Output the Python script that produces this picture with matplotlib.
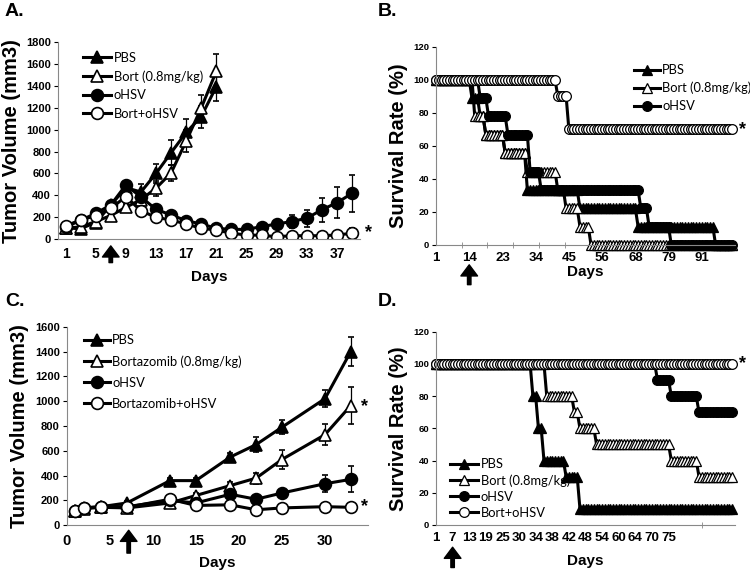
import numpy as np
import matplotlib.pyplot as plt

plt.rcParams['font.family'] = ['Liberation Sans', 'DejaVu Sans']

# ---------------- panel A: tumor volume (categorical days)
a_days = [1, 3, 5, 7, 9, 11, 13, 15, 17, 19, 21, 23, 25, 27, 29, 31, 33, 35, 37, 39]
a_pbs = [100, 95, 150, 310, 470, 430, 600, 790, 975, 1120, 1395]
a_pbs_err = [10, 10, 15, 25, 40, 70, 90, 115, 125, 100, 130]
a_bort = [100, 110, 160, 215, 290, 360, 465, 605, 895, 1200, 1535]
a_bort_err = [10, 10, 15, 20, 30, 50, 70, 70, 100, 120, 155]
a_ohsv = [110, 170, 235, 311, 494, 385, 271, 220, 168, 137, 98, 88, 88, 113, 137, 160, 190, 268, 332, 418]
a_ohsv_err = [10, 15, 20, 20, 30, 40, 30, 25, 20, 15, 15, 15, 15, 20, 30, 56, 76, 110, 142, 168]
a_combo = [120, 174, 213, 281, 387, 259, 198, 174, 137, 98, 82, 52, 37, 34, 21, 30, 30, 30, 37, 52]
a_combo_err = [10, 10, 15, 15, 20, 20, 15, 15, 15, 10, 10, 10, 10, 10, 10, 10, 10, 10, 15, 50]
a_names = ['PBS', 'Bort (0.8mg/kg)', 'oHSV', 'Bort+oHSV']

# ---------------- panel C: tumor volume (numeric days)
c_days = [1, 2, 4, 7, 12, 15, 19, 22, 25, 30, 33]
c_pbs = [115, 140, 150, 180, 360, 360, 550, 650, 790, 1020, 1400]
c_pbs_err = [10, 10, 10, 15, 25, 20, 35, 60, 58, 70, 118]
c_bort = [115, 135, 145, 140, 180, 240, 320, 380, 530, 730, 965]
c_bort_err = [10, 10, 10, 10, 15, 20, 30, 45, 76, 87, 152]
c_ohsv = [115, 140, 150, 150, 200, 180, 250, 210, 260, 335, 370]
c_ohsv_err = [10, 10, 10, 10, 15, 15, 30, 20, 30, 67, 105]
c_combo = [115, 140, 145, 145, 210, 160, 165, 125, 140, 150, 145]
c_combo_err = [10, 10, 10, 10, 10, 10, 10, 10, 10, 10, 10]
c_names = ['PBS', 'Bortazomib (0.8mg/kg)', 'oHSV', 'Bortazomib+oHSV']

# ---------------- panel B: survival, levels and number of category points at each level
b_cats = 108
b_labels = ['1', '14', '23', '34', '45', '56', '68', '79', '91']
b_pbs_lvl = [100, 88.9, 77.8, 66.7, 55.6, 33.3, 22.2, 11.1, 0]
b_pbs_n = [13, 3, 2, 7, 8, 19, 21, 28, 7]
b_bort_lvl = [100, 77.8, 66.7, 55.6, 44.4, 33.3, 22.2, 11.1, 0]
b_bort_n = [14, 4, 7, 8, 11, 3, 5, 4, 52]
b_ohsv_lvl = [100, 88.9, 77.8, 66.7, 44.4, 33.3, 22.2, 11.1, 0]
b_ohsv_n = [16, 3, 7, 8, 4, 36, 3, 8, 23]
b_combo_lvl = [100, 90, 70]
b_combo_n = [44, 4, 60]
b_names = ['PBS', 'Bort (0.8mg/kg)', 'oHSV', 'Bort+oHSV']

# ---------------- panel D: survival
d_cats = 108
d_labels = ['1', '7', '13', '19', '25', '30', '34', '38', '42', '48', '54', '60', '64', '70', '75']
d_pbs_lvl = [100, 80, 60, 40, 30, 10]
d_pbs_n = [35, 2, 2, 8, 5, 56]
d_bort_lvl = [100, 80, 70, 60, 50, 40, 30]
d_bort_n = [40, 10, 2, 6, 27, 10, 13]
d_ohsv_lvl = [100, 90, 80, 70]
d_ohsv_n = [80, 5, 10, 13]
d_combo_lvl = [100]
d_combo_n = [108]
d_names = ['PBS', 'Bort (0.8mg/kg)', 'oHSV', 'Bort+oHSV']

fig = plt.figure(figsize=(7.5, 5.73), dpi=100)
W, H = 750.0, 573.0


def axes_px(left, top, right, bottom):
    return fig.add_axes([left / W, 1 - bottom / H, (right - left) / W, (bottom - top) / H])


lab_font = dict(fontsize=14.5, fontweight='bold')
leg_prop = dict(family='Lato', size=9.3)

styles = [
    dict(marker='^', mfc='black', ms=9),
    dict(marker='^', mfc='white', ms=9),
    dict(marker='o', mfc='black', ms=8.5),
    dict(marker='o', mfc='white', ms=8.5),
]


def style_axes(ax):
    for s in ['top', 'right']:
        ax.spines[s].set_visible(False)
    for s in ['left', 'bottom']:
        ax.spines[s].set_color('#888888')
        ax.spines[s].set_linewidth(0.8)


def up_arrow(ax, x, y0, y1):
    ax.annotate('', xy=(x, y1), xytext=(x, y0), xycoords=('data', 'axes fraction'),
                textcoords=('data', 'axes fraction'), annotation_clip=False,
                arrowprops=dict(facecolor='black', edgecolor='black', width=2.5,
                                headwidth=12, headlength=8, shrink=0))


def star(ax, x, y):
    ax.text(x, y, '*', fontsize=13, fontweight='bold', ha='center', va='center', clip_on=False)


def volume(ax, x, series, names):
    handles = []
    for (vals, err), st, lab in zip(series, styles, names):
        n = len(vals)
        eb = ax.errorbar(x[:n], vals, yerr=err, color='black', lw=2.2, mec='black', mew=1.2,
                         capsize=2.5, elinewidth=0.9, capthick=0.9, **st)
        handles.append(eb.lines[0])
    ax.tick_params(axis='x', length=0, pad=6)
    ax.tick_params(axis='y', length=3, labelsize=8, pad=2)
    style_axes(ax)
    ax.set_ylabel('Tumor Volume (mm3)', labelpad=4, **lab_font)
    ax.set_xlabel('Days', fontsize=11, fontweight='bold', labelpad=6)
    return handles


# ================= A
axA = axes_px(58, 42.3, 359.6, 239)
xa = np.arange(len(a_days))
hA = volume(axA, xa, [(a_pbs, a_pbs_err), (a_bort, a_bort_err),
                      (a_ohsv, a_ohsv_err), (a_combo, a_combo_err)], a_names)
axA.set_xlim(-0.5, len(a_days) - 0.5)
axA.set_ylim(0, 1800)
axA.set_yticks(range(0, 1801, 200))
for t in axA.get_yticklabels():
    t.set_fontweight('bold')
axA.set_xticks(xa[::2])
axA.set_xticklabels([str(d) for d in a_days[::2]], fontsize=10, fontweight='bold')
axA.legend(hA, a_names, loc='upper left', bbox_to_anchor=(0.06, 0.985),
           frameon=False, prop=leg_prop, handlelength=2.2, handletextpad=0.2, labelspacing=0.5,
           borderpad=0)
up_arrow(axA, 3, -0.12, -0.035)
star(axA, 20.1, 60)

# ================= C
axC = axes_px(66.7, 326.7, 368, 525.3)
hC = volume(axC, np.array(c_days), [(c_pbs, c_pbs_err), (c_bort, c_bort_err),
                                    (c_ohsv, c_ohsv_err), (c_combo, c_combo_err)], c_names)
axC.set_xlim(0, 35)
axC.set_ylim(0, 1600)
axC.set_yticks(range(0, 1601, 200))
for t in axC.get_yticklabels():
    t.set_fontweight('bold')
axC.set_xticks(range(0, 31, 5))
axC.set_xticklabels([str(v) for v in range(0, 31, 5)], fontsize=10.5, fontweight='bold')
axC.legend(hC, c_names, loc='upper left', bbox_to_anchor=(0.035, 0.995),
           frameon=False, prop=leg_prop, handlelength=2.0, handletextpad=0.2, labelspacing=0.7,
           borderpad=0)
up_arrow(axC, 7.2, -0.14, -0.025)
star(axC, 34.6, 960)
star(axC, 34.6, 150)


# ================= survival panels
surv_styles = [
    dict(marker='^', mfc='black', ms=7.5),
    dict(marker='^', mfc='white', ms=7.5),
    dict(marker='o', mfc='black', ms=7),
    dict(marker='o', mfc='white', ms=7),
]


def survival(ax, ncat, series, names, labels, lab_step, tick_step):
    lines = []
    for (lvl, cnt), st, lab in zip(series, surv_styles, names):
        y = np.repeat(lvl, cnt)
        ln, = ax.plot(np.arange(ncat), y, color='black', lw=2.2, mec='black', mew=0.9,
                      clip_on=False, **st)
        lines.append(ln)
    ax.set_xlim(0, ncat)
    ax.set_ylim(0, 120)
    ax.set_yticks(range(0, 121, 20))
    ax.tick_params(axis='y', length=3, labelsize=6.8, pad=2)
    for t in ax.get_yticklabels():
        t.set_fontweight('bold')
    ax.set_xticks(np.arange(len(labels)) * lab_step)
    ax.set_xticklabels(labels, fontsize=9.5, fontweight='bold')
    ax.set_xticks(np.arange(0, ncat, tick_step), minor=True)
    ax.tick_params(axis='x', which='major', length=0, pad=5)
    ax.tick_params(axis='x', which='minor', length=4, direction='inout', color='#888888')
    style_axes(ax)
    ax.set_ylabel('Survival Rate (%)', labelpad=4, **lab_font)
    return lines


axB = axes_px(436, 46.7, 735, 245)
linesB = survival(axB, b_cats,
                  [(b_pbs_lvl, b_pbs_n), (b_bort_lvl, b_bort_n),
                   (b_ohsv_lvl, b_ohsv_n), (b_combo_lvl, b_combo_n)],
                  b_names, b_labels, 12, 9.3)
axB.set_xlabel('Days', fontsize=11, fontweight='bold', labelpad=1)
axB.legend(linesB[:3], b_names[:3], loc='upper left',
           bbox_to_anchor=(0.64, 0.945), frameon=False, prop=leg_prop, handlelength=2.0,
           handletextpad=0.2, labelspacing=0.45, borderpad=0)
up_arrow(axB, 12, -0.2, -0.1)
star(axB, 110.6, 70)

axD = axes_px(436, 331.7, 735, 525)
linesD = survival(axD, d_cats,
                  [(d_pbs_lvl, d_pbs_n), (d_bort_lvl, d_bort_n),
                   (d_ohsv_lvl, d_ohsv_n), (d_combo_lvl, d_combo_n)],
                  d_names, d_labels, 6, 12)
axD.set_xlabel('Days', fontsize=11, fontweight='bold', labelpad=7)
axD.legend(linesD, d_names, loc='lower left',
           bbox_to_anchor=(0.025, 0.0), frameon=False, prop=leg_prop, handlelength=2.2,
           handletextpad=0.2, labelspacing=0.3, borderpad=0)
up_arrow(axD, 6, -0.22, -0.115)
star(axD, 110.8, 100)

# panel letters
for x, y, s in [(5, 3, 'A.'), (378, 3, 'B.'), (5, 293, 'C.'), (378, 293, 'D.')]:
    fig.text(x / W, 1 - y / H, s, fontsize=14, fontweight='bold', ha='left', va='top')

fig.savefig('out.png', dpi=100)
